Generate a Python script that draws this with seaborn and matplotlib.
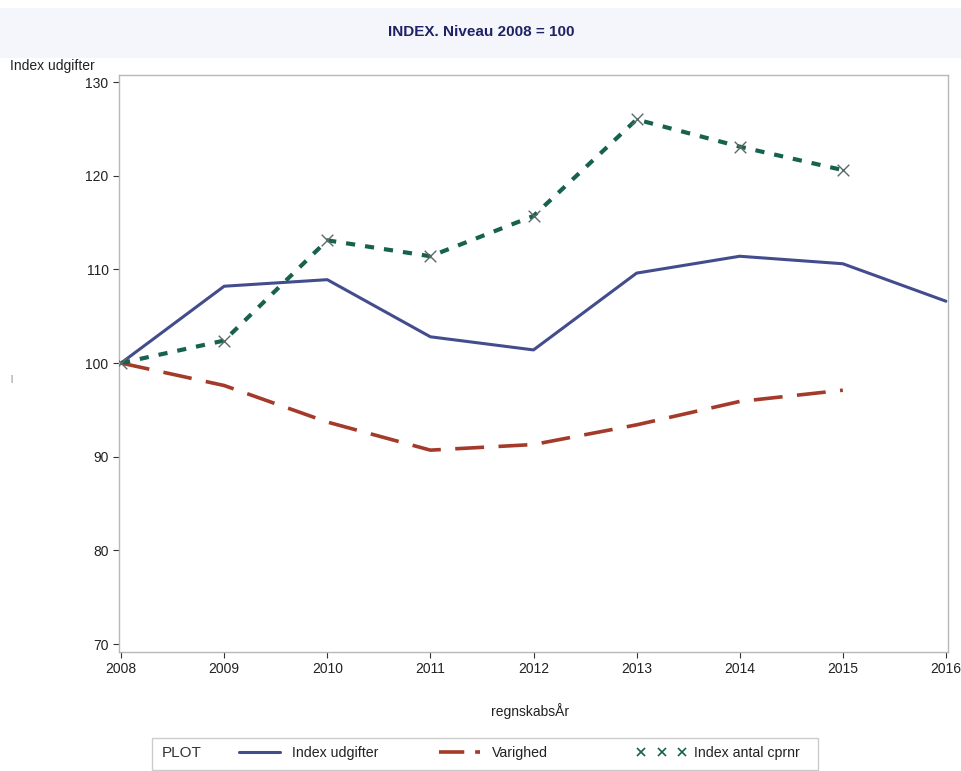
import pandas as pd
import numpy as np
import seaborn as sns
import matplotlib.pyplot as plt
from matplotlib.lines import Line2D
from matplotlib.patches import Rectangle

years = [2008, 2009, 2010, 2011, 2012, 2013, 2014, 2015, 2016]
udgifter = [100, 108.2, 108.9, 102.8, 101.4, 109.6, 111.4, 110.6, 106.6]
varighed_years = [2008, 2009, 2010, 2011, 2012, 2013, 2014, 2015]
varighed = [100, 97.6, 93.7, 90.7, 91.3, 93.4, 95.9, 97.1]
cprnr_years = [2008, 2009, 2010, 2011, 2012, 2013, 2014, 2015]
cprnr = [100, 102.4, 113.1, 111.4, 115.7, 126.0, 123.1, 120.6]

blue = '#434c8c'
red = '#a33a2a'
green = '#17614f'

sns.set_style('white')
plt.rcParams['font.family'] = ['Liberation Sans', 'DejaVu Sans']

fig = plt.figure(figsize=(9.62, 7.71), dpi=100)
# light title band
fig.patches.append(Rectangle((0, 1 - 58 / 771), 1, 50 / 771, transform=fig.transFigure,
                             facecolor='#f4f6fb', edgecolor='none', zorder=0))
fig.text(0.5, 1 - 32 / 771, 'INDEX. Niveau 2008 = 100', ha='center', va='center',
         fontsize=11, fontweight='bold', color='#1f2366')

ax = fig.add_axes([119 / 962, 1 - 652 / 771, (948 - 119) / 962, (652 - 75) / 771])

df1 = pd.DataFrame({'year': years, 'val': udgifter})
df2 = pd.DataFrame({'year': varighed_years, 'val': varighed})
df3 = pd.DataFrame({'year': cprnr_years, 'val': cprnr})

sns.lineplot(data=df1, x='year', y='val', ax=ax, color=blue, linewidth=2.2)
sns.lineplot(data=df2, x='year', y='val', ax=ax, color=red, linewidth=2.6,
             linestyle=(0, (8, 4)))
sns.lineplot(data=df3, x='year', y='val', ax=ax, color=green, linewidth=3,
             linestyle=(0, (2.2, 2.4)))
sns.scatterplot(data=df3, x='year', y='val', ax=ax, marker='x', color='#5a6a66',
                s=70, linewidth=1, zorder=5)

ax.set_xlim(2007.98, 2016.02)
ax.set_ylim(69.15, 130.75)
ax.set_xticks(years)
ax.set_yticks([70, 80, 90, 100, 110, 120, 130])
ax.tick_params(axis='both', labelsize=10, colors='#333333', length=4, width=0.8,
               direction='out', left=True, bottom=True)
for t in ax.get_xticklabels() + ax.get_yticklabels():
    t.set_color('#222222')
for s in ax.spines.values():
    s.set_color('#b8b8b8')
    s.set_linewidth(1)
ax.set_xlabel('')
ax.set_ylabel('')

fig.text(10 / 962, 1 - 66 / 771, 'Index udgifter', ha='left', va='center', fontsize=10,
         color='#222222')
fig.text(530 / 962, 1 - 711 / 771, 'regnskabsÅr', ha='center', va='center', fontsize=10,
         color='#222222')
fig.text(10 / 962, 1 - 380 / 771, 'l', ha='left', va='center', fontsize=7, color='#888888')

# legend box: frame + "PLOT" label + one small legend per entry
ly = 1 - 753 / 771
fig.patches.append(Rectangle((152 / 962, 1 - 770 / 771), 666 / 962, 32 / 771,
                             transform=fig.transFigure, facecolor='white',
                             edgecolor='#cccccc', linewidth=1, zorder=1))
fig.text(162 / 962, ly, 'PLOT', ha='left', va='center', fontsize=11, color='#333333')

entries = [
    (Line2D([], [], color=blue, linewidth=2.2), 'Index udgifter', 235),
    (Line2D([], [], color=red, linewidth=2.6, linestyle=(0, (7, 3))), 'Varighed', 435),
    (Line2D([], [], color=green, marker='x', linestyle='none', markersize=6,
            markeredgewidth=1.2), 'Index antal cprnr', 637),
]
for h, lab, x0 in entries:
    leg = fig.legend([h], [lab], loc='center left', bbox_to_anchor=(x0 / 962, ly),
                     frameon=False, fontsize=10.2, handlelength=3.5, numpoints=3,
                     handletextpad=0.5, borderpad=0, borderaxespad=0)
    for t in leg.get_texts():
        t.set_color('#222222')

fig.savefig('out.png', dpi=100)
